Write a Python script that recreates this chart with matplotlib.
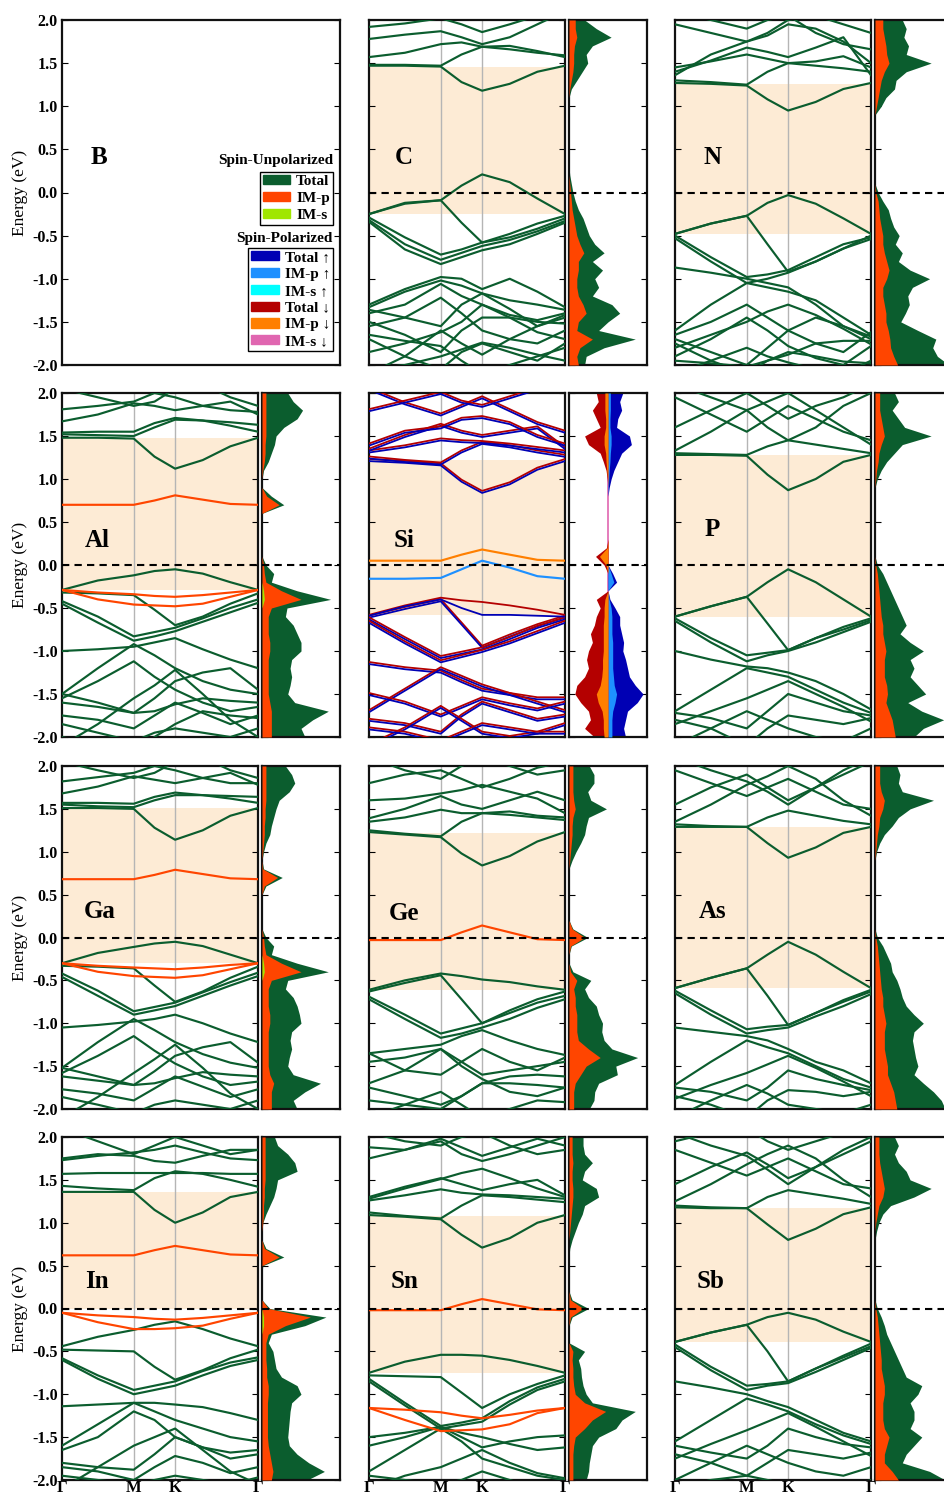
import numpy as np
import matplotlib.pyplot as plt
from matplotlib.patches import Patch
from matplotlib.ticker import FormatStrFormatter

plt.rcParams['font.family'] = ['Liberation Serif', 'DejaVu Serif']
plt.rcParams['font.weight'] = 'bold'
plt.rcParams['axes.unicode_minus'] = False
plt.rcParams['xtick.direction'] = 'in'
plt.rcParams['ytick.direction'] = 'in'

GREEN = '#0b5d2e'
IMP = '#ff4500'
IMS = '#a0e600'
UP_T, UP_P, UP_S = '#0000b4', '#1e90ff', '#00ffff'
DN_T, DN_P, DN_S = '#b40000', '#ff7f00', '#e066b0'
GAP = '#fdebd5'

# k-path samples: G, 1/2 GM, M, 1/2 MK, K, 1/3 KG, 2/3 KG, G  (fraction of path)
k_path = [0.0, 0.183, 0.366, 0.472, 0.577, 0.718, 0.859, 1.0]
k_ticks = [0.0, 0.366, 0.577, 1.0]
k_labels = ['Γ', 'M', 'K', 'Γ']
e_ticks = [-2.0, -1.5, -1.0, -0.5, 0.0, 0.5, 1.0, 1.5, 2.0]
# DOS energy grid, from 2.0 down to -2.0 in 0.1 eV steps
e_dos = np.linspace(2.0, -2.0, 41)

# ---------------- C ----------------
c_bands = [
    [1.47, 1.47, 1.46, 1.28, 1.18, 1.26, 1.40, 1.47],
    [1.48, 1.48, 1.47, 1.60, 1.69, 1.66, 1.62, 1.59],
    [1.57, 1.62, 1.72, 1.74, 1.69, 1.70, 1.64, 1.57],
    [1.78, 1.83, 1.87, 1.80, 1.72, 1.80, 1.95, 2.10],
    [1.92, 1.96, 2.02, 1.95, 1.86, 1.95, 2.05, 2.20],
    [-0.25, -0.12, -0.09, 0.08, 0.21, 0.12, -0.07, -0.25],
    [-0.25, -0.13, -0.09, -0.35, -0.58, -0.48, -0.36, -0.27],
    [-0.29, -0.52, -0.72, -0.66, -0.58, -0.52, -0.42, -0.30],
    [-0.32, -0.60, -0.78, -0.70, -0.62, -0.55, -0.45, -0.33],
    [-0.34, -0.66, -0.83, -0.75, -0.67, -0.60, -0.48, -0.35],
    [-1.30, -1.12, -0.98, -1.00, -1.12, -1.00, -1.15, -1.33],
    [-1.33, -1.15, -1.02, -1.08, -1.17, -1.25, -1.30, -1.36],
    [-1.36, -1.45, -1.55, -1.30, -1.17, -1.35, -1.55, -1.42],
    [-1.50, -1.65, -1.85, -1.60, -1.45, -1.45, -1.50, -1.52],
    [-1.55, -1.45, -1.22, -1.40, -1.60, -1.70, -1.75, -1.60],
    [-1.70, -1.90, -2.05, -1.85, -1.75, -1.85, -1.95, -1.75],
    [-2.10, -1.90, -1.60, -1.75, -1.88, -1.70, -1.55, -1.45],
    [-1.65, -1.72, -1.78, -1.95, -2.10, -2.00, -1.90, -1.80],
    [-1.40, -1.30, -1.06, -1.20, -1.30, -1.42, -1.48, -1.40],
    [-1.85, -1.75, -1.62, -1.50, -1.30, -1.45, -1.62, -1.70],
    [-2.05, -2.00, -1.90, -1.82, -1.74, -1.80, -1.88, -1.95],
]
c_imp_bands = []
c_gap = (-0.25, 1.46)
c_dos_tot = [0.2, 0.35, 0.54, 0.3, 0.22, 0.24, 0.17, 0.1, 0.03, 0.0, 0, 0, 0, 0, 0, 0, 0,
             0.0, 0.01, 0.03, 0.05, 0.08, 0.12, 0.18, 0.22, 0.26, 0.33, 0.45, 0.3, 0.43,
             0.33, 0.38, 0.3, 0.55, 0.65, 0.5, 0.38, 0.85, 0.45, 0.22, 0.2]
c_dos_p = [0.08, 0.08, 0.1, 0.07, 0.06, 0.06, 0.05, 0.03, 0.01, 0, 0, 0, 0, 0, 0, 0, 0,
           0, 0, 0.01, 0.02, 0.03, 0.04, 0.06, 0.08, 0.1, 0.14, 0.19, 0.12, 0.12,
           0.1, 0.1, 0.12, 0.18, 0.22, 0.12, 0.1, 0.3, 0.14, 0.1, 0.12]

# ---------------- N ----------------
n_bands = [
    [1.27, 1.26, 1.24, 1.08, 0.95, 1.05, 1.20, 1.27],
    [1.30, 1.28, 1.25, 1.40, 1.50, 1.47, 1.44, 1.40],
    [1.45, 1.52, 1.60, 1.55, 1.50, 1.52, 1.58, 1.45],
    [1.40, 1.53, 1.68, 1.63, 1.57, 1.68, 1.80, 1.36],
    [1.36, 1.60, 1.75, 1.82, 1.95, 1.90, 1.75, 1.50],
    [1.95, 1.85, 1.75, 1.85, 2.00, 2.05, 1.95, 1.85],
    [2.10, 2.00, 1.90, 2.00, 2.05, 1.85, 1.72, 1.66],
    [-0.48, -0.36, -0.27, -0.12, -0.03, -0.13, -0.30, -0.48],
    [-0.48, -0.36, -0.27, -0.60, -0.92, -0.80, -0.65, -0.50],
    [-0.50, -0.75, -0.98, -0.95, -0.90, -0.75, -0.60, -0.52],
    [-0.53, -0.80, -1.05, -1.00, -0.93, -0.80, -0.65, -0.54],
    [-0.87, -0.93, -1.00, -1.05, -1.10, -1.30, -1.55, -1.70],
    [-1.60, -1.30, -1.05, -1.10, -1.15, -1.25, -1.45, -1.65],
    [-1.65, -1.50, -1.30, -1.45, -1.60, -1.75, -1.85, -1.62],
    [-1.70, -1.85, -2.00, -1.80, -1.60, -1.45, -1.55, -1.67],
    [-1.75, -1.95, -2.10, -1.95, -1.88, -1.75, -1.72, -1.72],
    [-1.90, -1.70, -1.45, -1.60, -1.78, -1.92, -2.00, -1.78],
    [-2.10, -1.95, -1.80, -1.90, -1.97, -2.05, -2.10, -1.95],
    [-1.80, -1.65, -1.50, -1.38, -1.30, -1.42, -1.58, -1.76],
    [-1.95, -1.98, -2.02, -1.95, -1.85, -1.90, -1.96, -1.98],
]
n_imp_bands = []
n_gap = (-0.48, 1.26)
n_dos_tot = [0.35, 0.4, 0.37, 0.43, 0.4, 0.72, 0.4, 0.27, 0.25, 0.14, 0.08, 0.0,
             0, 0, 0, 0, 0, 0, 0, 0,
             0.04, 0.1, 0.17, 0.2, 0.24, 0.31, 0.26, 0.35, 0.3, 0.45, 0.7, 0.48, 0.42,
             0.44, 0.39, 0.33, 0.55, 0.78, 0.74, 0.8, 0.95]
n_dos_p = [0.1, 0.1, 0.12, 0.14, 0.15, 0.18, 0.12, 0.08, 0.06, 0.04, 0.02,
           0, 0, 0, 0, 0, 0, 0, 0, 0,
           0.01, 0.04, 0.05, 0.06, 0.08, 0.1, 0.1, 0.12, 0.15, 0.18, 0.15, 0.1, 0.1,
           0.12, 0.14, 0.14, 0.17, 0.19, 0.2, 0.24, 0.29]

# ---------------- Al ----------------
al_bands = [
    [1.48, 1.48, 1.47, 1.26, 1.12, 1.22, 1.38, 1.48],
    [1.52, 1.51, 1.50, 1.60, 1.69, 1.68, 1.66, 1.63],
    [1.54, 1.55, 1.55, 1.65, 1.71, 1.68, 1.62, 1.55],
    [1.67, 1.75, 1.88, 1.85, 1.80, 1.85, 1.90, 1.75],
    [1.81, 1.85, 1.90, 2.00, 1.95, 1.85, 1.80, 1.78],
    [2.05, 1.95, 1.85, 1.90, 2.05, 2.10, 1.95, 1.85],
    [-0.29, -0.18, -0.12, -0.07, -0.05, -0.10, -0.20, -0.29],
    [-0.32, -0.33, -0.35, -0.52, -0.70, -0.60, -0.45, -0.33],
    [-0.42, -0.60, -0.83, -0.78, -0.73, -0.62, -0.50, -0.40],
    [-0.45, -0.67, -0.88, -0.83, -0.77, -0.66, -0.55, -0.44],
    [-1.00, -0.98, -0.95, -0.90, -0.85, -0.98, -1.10, -1.20],
    [-1.50, -1.20, -0.92, -1.05, -1.20, -1.35, -1.45, -1.50],
    [-1.50, -1.60, -1.72, -1.55, -1.35, -1.25, -1.20, -1.45],
    [-1.60, -1.65, -1.72, -1.70, -1.62, -1.55, -1.58, -1.60],
    [-1.75, -1.80, -1.90, -1.75, -1.60, -1.72, -1.85, -1.75],
    [-2.10, -1.85, -1.55, -1.40, -1.22, -1.50, -1.80, -2.00],
    [-1.85, -1.95, -2.05, -1.95, -1.90, -1.95, -2.00, -1.90],
    [-2.00, -2.10, -2.20, -2.00, -1.85, -1.70, -1.75, -1.78],
    [-1.55, -1.35, -1.12, -1.30, -1.45, -1.60, -1.70, -1.65],
]
al_imp_bands = [
    [0.70, 0.70, 0.70, 0.75, 0.81, 0.76, 0.71, 0.70],
    [-0.29, -0.32, -0.34, -0.36, -0.37, -0.35, -0.32, -0.29],
    [-0.29, -0.40, -0.46, -0.47, -0.48, -0.45, -0.37, -0.29],
]
al_gap = (-0.29, 1.48)
al_dos_tot = [0.33, 0.4, 0.52, 0.45, 0.28, 0.18, 0.16, 0.12, 0.08, 0.02, 0, 0, 0.12, 0.28, 0.0,
              0, 0, 0, 0, 0,
              0.05, 0.15, 0.12, 0.45, 0.88, 0.32, 0.3, 0.4, 0.45, 0.5, 0.5, 0.38, 0.36,
              0.38, 0.36, 0.33, 0.42, 0.85, 0.65, 0.5, 0.55]
al_dos_p = [0.05, 0.05, 0.05, 0.05, 0.05, 0.05, 0.04, 0.04, 0.03, 0.01, 0, 0, 0.06, 0.22, 0,
            0, 0, 0, 0, 0,
            0.02, 0.03, 0.05, 0.25, 0.5, 0.12, 0.08, 0.08, 0.08, 0.1, 0.1, 0.08, 0.08,
            0.08, 0.08, 0.08, 0.1, 0.12, 0.12, 0.12, 0.12]
al_dos_s = [0, 0, 0, 0, 0, 0, 0, 0, 0, 0, 0, 0, 0, 0, 0, 0, 0, 0, 0, 0,
            0, 0, 0, 0.02, 0.03, 0, 0, 0, 0, 0, 0, 0, 0, 0, 0, 0, 0, 0, 0, 0, 0]

# ---------------- Si (spin-polarized) ----------------
si_bands = [
    [1.22, 1.20, 1.17, 0.98, 0.85, 0.95, 1.12, 1.22],
    [1.25, 1.21, 1.18, 1.32, 1.42, 1.38, 1.32, 1.27],
    [1.32, 1.38, 1.46, 1.44, 1.43, 1.40, 1.36, 1.32],
    [1.34, 1.50, 1.63, 1.55, 1.50, 1.55, 1.60, 1.36],
    [1.40, 1.55, 1.60, 1.70, 1.72, 1.65, 1.50, 1.40],
    [2.05, 1.88, 1.75, 1.85, 1.95, 1.80, 1.65, 1.55],
    [1.80, 1.90, 2.00, 1.90, 1.85, 1.95, 2.05, 2.10],
    [-0.60, -0.50, -0.41, -0.68, -0.95, -0.82, -0.70, -0.60],
    [-0.62, -0.85, -1.07, -1.02, -0.97, -0.85, -0.72, -0.62],
    [-0.66, -0.90, -1.12, -1.06, -1.00, -0.90, -0.78, -0.66],
    [-1.14, -1.20, -1.24, -1.35, -1.45, -1.50, -1.55, -1.55],
    [-1.70, -1.45, -1.20, -1.30, -1.40, -1.50, -1.60, -1.70],
    [-1.50, -1.60, -1.75, -1.65, -1.55, -1.62, -1.68, -1.60],
    [-1.80, -1.85, -1.95, -1.75, -1.60, -1.70, -1.80, -1.75],
    [-2.10, -1.90, -1.65, -1.80, -1.95, -2.00, -1.95, -1.85],
    [-1.90, -1.95, -2.05, -1.95, -1.85, -1.90, -1.95, -1.95],
]
si_top_dn = [-0.58, -0.47, -0.38, -0.41, -0.43, -0.47, -0.52, -0.58]
si_top_up = [-0.59, -0.48, -0.40, -0.50, -0.58, -0.58, -0.59, -0.60]
si_imp_dn = [0.05, 0.05, 0.05, 0.12, 0.18, 0.12, 0.06, 0.05]
si_imp_up = [-0.16, -0.16, -0.15, -0.05, 0.05, -0.03, -0.13, -0.16]
si_gap = (-0.58, 1.22)
si_up_tot = [0.38, 0.3, 0.35, 0.25, 0.22, 0.55, 0.6, 0.35, 0.25, 0.15, 0.08, 0.03, 0,
             0, 0, 0, 0, 0, 0, 0, 0.0,
             0.12, 0.22, 0, 0.05, 0.18, 0.3, 0.3, 0.35, 0.4, 0.38, 0.45, 0.5, 0.55,
             0.7, 0.9, 0.75, 0.5, 0.45, 0.4, 0.45]
si_up_p = [0.06, 0.06, 0.06, 0.05, 0.05, 0.08, 0.08, 0.06, 0.05, 0.03, 0.02, 0.01, 0,
           0, 0, 0, 0, 0, 0, 0, 0,
           0.08, 0.15, 0, 0.03, 0.08, 0.1, 0.1, 0.1, 0.12, 0.12, 0.12, 0.12, 0.14,
           0.16, 0.22, 0.18, 0.12, 0.1, 0.1, 0.1]
si_dn_tot = [0.3, 0.25, 0.4, 0.3, 0.2, 0.6, 0.5, 0.2, 0.12, 0.05, 0.02, 0, 0,
             0, 0, 0, 0, 0, 0.04, 0.32, 0.1,
             0, 0, 0, 0.3, 0.2, 0.3, 0.35, 0.45, 0.4, 0.5, 0.55, 0.5, 0.6, 0.8, 0.85,
             0.7, 0.5, 0.45, 0.6, 0.35]
si_dn_p = [0.08, 0.08, 0.08, 0.06, 0.06, 0.1, 0.1, 0.06, 0.05, 0.03, 0.01, 0, 0,
           0, 0, 0, 0, 0, 0.02, 0.22, 0.05,
           0, 0, 0, 0.08, 0.1, 0.1, 0.12, 0.12, 0.12, 0.12, 0.14, 0.14, 0.16, 0.2,
           0.3, 0.25, 0.15, 0.12, 0.12, 0.1]

# ---------------- P ----------------
p_bands = [
    [1.28, 1.28, 1.27, 1.05, 0.87, 1.00, 1.20, 1.28],
    [1.30, 1.29, 1.28, 1.38, 1.45, 1.40, 1.35, 1.30],
    [1.33, 1.55, 1.80, 1.90, 2.00, 1.80, 1.60, 1.40],
    [1.60, 1.80, 2.00, 1.85, 1.70, 1.85, 1.95, 2.10],
    [1.95, 1.75, 1.55, 1.70, 1.85, 1.70, 1.55, 1.45],
    [2.10, 1.95, 1.80, 1.60, 1.45, 1.60, 1.85, 2.00],
    [-0.60, -0.48, -0.37, -0.20, -0.05, -0.20, -0.40, -0.60],
    [-0.60, -0.48, -0.37, -0.68, -0.99, -0.85, -0.72, -0.62],
    [-0.62, -0.85, -1.05, -1.02, -0.99, -0.85, -0.75, -0.64],
    [-0.65, -0.90, -1.12, -1.05, -1.00, -0.90, -0.78, -0.66],
    [-1.00, -1.10, -1.18, -1.20, -1.25, -1.35, -1.50, -1.68],
    [-1.70, -1.45, -1.20, -1.25, -1.30, -1.45, -1.60, -1.72],
    [-1.72, -1.78, -1.90, -1.70, -1.50, -1.60, -1.70, -1.75],
    [-1.80, -1.90, -2.10, -1.90, -1.75, -1.80, -1.85, -1.78],
    [-2.10, -1.90, -1.70, -1.80, -1.90, -2.00, -2.05, -1.90],
    [-1.85, -1.70, -1.55, -1.45, -1.35, -1.50, -1.65, -1.82],
]
p_imp_bands = []
p_gap = (-0.60, 1.28)
p_dos_tot = [0.25, 0.3, 0.22, 0.3, 0.38, 0.72, 0.35, 0.25, 0.15, 0.08, 0.03, 0,
             0, 0, 0, 0, 0, 0, 0, 0,
             0.03, 0.1, 0.15, 0.2, 0.25, 0.3, 0.35, 0.4, 0.32, 0.45, 0.62, 0.45, 0.5,
             0.45, 0.55, 0.65, 0.42, 0.6, 0.88, 0.62, 0.5]
p_dos_p = [0.06, 0.06, 0.06, 0.08, 0.1, 0.12, 0.08, 0.05, 0.04, 0.02, 0.01, 0,
           0, 0, 0, 0, 0, 0, 0, 0,
           0.01, 0.03, 0.04, 0.05, 0.06, 0.07, 0.08, 0.1, 0.1, 0.12, 0.14, 0.12, 0.12,
           0.12, 0.15, 0.16, 0.14, 0.18, 0.22, 0.24, 0.26]

# ---------------- Ga ----------------
ga_bands = [
    [1.51, 1.51, 1.50, 1.28, 1.14, 1.25, 1.42, 1.51],
    [1.55, 1.53, 1.52, 1.60, 1.66, 1.66, 1.65, 1.64],
    [1.57, 1.57, 1.56, 1.64, 1.69, 1.66, 1.62, 1.57],
    [1.68, 1.76, 1.88, 1.84, 1.80, 1.86, 1.92, 1.78],
    [1.82, 1.87, 1.92, 2.00, 1.95, 1.86, 1.80, 1.80],
    [2.05, 1.95, 1.86, 1.92, 2.05, 2.10, 1.95, 1.86],
    [-0.30, -0.18, -0.11, -0.07, -0.05, -0.10, -0.20, -0.30],
    [-0.33, -0.34, -0.36, -0.56, -0.75, -0.63, -0.47, -0.34],
    [-0.42, -0.62, -0.86, -0.81, -0.76, -0.64, -0.52, -0.41],
    [-0.46, -0.68, -0.90, -0.85, -0.80, -0.68, -0.56, -0.45],
    [-1.05, -1.02, -0.98, -0.95, -0.90, -1.00, -1.12, -1.22],
    [-1.52, -1.22, -0.95, -1.08, -1.22, -1.36, -1.46, -1.52],
    [-1.52, -1.62, -1.72, -1.56, -1.38, -1.28, -1.22, -1.46],
    [-1.62, -1.67, -1.72, -1.70, -1.64, -1.57, -1.60, -1.62],
    [-1.77, -1.82, -1.90, -1.76, -1.62, -1.74, -1.86, -1.77],
    [-2.10, -1.86, -1.58, -1.42, -1.25, -1.52, -1.82, -2.00],
    [-1.86, -1.95, -2.05, -1.95, -1.90, -1.95, -2.00, -1.90],
    [-1.58, -1.38, -1.15, -1.32, -1.47, -1.62, -1.72, -1.68],
]
ga_imp_bands = [
    [0.68, 0.68, 0.68, 0.73, 0.79, 0.74, 0.69, 0.68],
    [-0.30, -0.33, -0.35, -0.36, -0.37, -0.35, -0.32, -0.30],
    [-0.30, -0.40, -0.45, -0.46, -0.47, -0.44, -0.37, -0.30],
]
ga_gap = (-0.30, 1.51)
ga_dos_tot = [0.3, 0.38, 0.42, 0.35, 0.22, 0.18, 0.15, 0.12, 0.1, 0.05, 0.02, 0, 0.02, 0.26, 0.05,
              0, 0, 0, 0, 0,
              0.05, 0.15, 0.12, 0.45, 0.85, 0.33, 0.3, 0.4, 0.45, 0.48, 0.5, 0.38, 0.36,
              0.38, 0.35, 0.33, 0.4, 0.75, 0.55, 0.4, 0.45]
ga_dos_p = [0.05, 0.05, 0.05, 0.05, 0.05, 0.04, 0.04, 0.03, 0.03, 0.02, 0.01, 0, 0.01, 0.2, 0.03,
            0, 0, 0, 0, 0,
            0.02, 0.03, 0.05, 0.25, 0.5, 0.12, 0.08, 0.08, 0.08, 0.1, 0.1, 0.08, 0.08,
            0.08, 0.08, 0.08, 0.1, 0.15, 0.12, 0.12, 0.12]
ga_dos_s = [0, 0, 0, 0, 0, 0, 0, 0, 0, 0, 0, 0, 0, 0, 0, 0, 0, 0, 0, 0,
            0, 0, 0, 0.02, 0.03, 0, 0, 0, 0, 0, 0, 0, 0, 0, 0, 0, 0, 0, 0, 0, 0]

# ---------------- Ge ----------------
ge_bands = [
    [1.23, 1.20, 1.17, 0.98, 0.84, 0.95, 1.12, 1.23],
    [1.25, 1.21, 1.18, 1.35, 1.45, 1.43, 1.40, 1.37],
    [1.35, 1.40, 1.49, 1.45, 1.45, 1.47, 1.42, 1.40],
    [1.39, 1.50, 1.65, 1.55, 1.50, 1.60, 1.70, 1.60],
    [1.60, 1.62, 1.68, 1.72, 1.78, 1.70, 1.62, 1.45],
    [1.80, 1.90, 1.95, 1.85, 1.75, 1.85, 1.98, 2.05],
    [2.10, 1.95, 1.85, 2.00, 2.10, 2.00, 1.90, 1.95],
    [-0.61, -0.50, -0.42, -0.45, -0.49, -0.52, -0.57, -0.61],
    [-0.63, -0.53, -0.44, -0.72, -1.00, -0.85, -0.72, -0.63],
    [-0.69, -0.90, -1.12, -1.06, -1.00, -0.88, -0.76, -0.68],
    [-0.72, -0.95, -1.17, -1.12, -1.05, -0.95, -0.82, -0.72],
    [-1.35, -1.30, -1.25, -1.15, -1.08, -1.20, -1.30, -1.37],
    [-1.35, -1.55, -1.60, -1.45, -1.30, -1.45, -1.55, -1.40],
    [-1.45, -1.40, -1.30, -1.45, -1.60, -1.55, -1.50, -1.45],
    [-1.70, -1.55, -1.30, -1.50, -1.65, -1.80, -1.85, -1.75],
    [-1.90, -1.95, -2.00, -1.85, -1.70, -1.70, -1.72, -1.75],
    [-2.10, -1.95, -1.80, -1.95, -2.10, -2.00, -1.90, -1.92],
    [-1.75, -1.85, -1.95, -1.85, -1.70, -1.62, -1.60, -1.62],
]
ge_imp_bands = [
    [-0.03, -0.03, -0.03, 0.06, 0.14, 0.06, -0.02, -0.03],
]
ge_gap = (-0.61, 1.22)
ge_dos_tot = [0.26, 0.32, 0.32, 0.24, 0.28, 0.48, 0.25, 0.22, 0.2, 0.15, 0.09, 0.04, 0,
              0, 0, 0, 0, 0, 0, 0.05, 0.24,
              0.03, 0, 0, 0.05, 0.28, 0.2, 0.25, 0.35, 0.38, 0.43, 0.42, 0.45, 0.55,
              0.88, 0.6, 0.62, 0.38, 0.33, 0.32, 0.26]
ge_dos_p = [0.05, 0.05, 0.05, 0.05, 0.06, 0.08, 0.05, 0.04, 0.04, 0.03, 0.02, 0.01, 0,
            0, 0, 0, 0, 0, 0, 0.04, 0.2,
            0.02, 0, 0, 0.02, 0.1, 0.06, 0.08, 0.08, 0.1, 0.1, 0.1, 0.12, 0.25,
            0.4, 0.22, 0.15, 0.08, 0.06, 0.06, 0.06]

# ---------------- As ----------------
as_bands = [
    [1.29, 1.29, 1.29, 1.10, 0.93, 1.05, 1.22, 1.29],
    [1.32, 1.30, 1.29, 1.40, 1.48, 1.42, 1.36, 1.32],
    [1.35, 1.55, 1.78, 1.88, 2.00, 1.85, 1.60, 1.42],
    [1.55, 1.75, 1.90, 1.75, 1.60, 1.75, 1.90, 2.05],
    [1.95, 1.80, 1.65, 1.75, 1.85, 1.70, 1.55, 1.50],
    [2.10, 1.95, 1.82, 1.70, 1.55, 1.75, 1.95, 2.10],
    [-0.59, -0.47, -0.36, -0.20, -0.05, -0.20, -0.40, -0.59],
    [-0.59, -0.47, -0.36, -0.68, -1.02, -0.88, -0.73, -0.61],
    [-0.62, -0.85, -1.07, -1.04, -1.02, -0.88, -0.75, -0.63],
    [-0.65, -0.90, -1.12, -1.08, -1.05, -0.92, -0.80, -0.66],
    [-1.05, -1.10, -1.15, -1.20, -1.30, -1.45, -1.55, -1.70],
    [-1.72, -1.45, -1.20, -1.28, -1.35, -1.50, -1.65, -1.75],
    [-1.75, -1.80, -1.90, -1.75, -1.55, -1.65, -1.72, -1.78],
    [-1.85, -1.95, -2.10, -1.90, -1.78, -1.80, -1.85, -1.80],
    [-2.10, -1.90, -1.72, -1.82, -1.95, -2.00, -2.05, -1.95],
    [-1.88, -1.72, -1.58, -1.48, -1.38, -1.52, -1.68, -1.85],
]
as_imp_bands = []
as_gap = (-0.59, 1.29)
as_dos_tot = [0.28, 0.32, 0.3, 0.35, 0.75, 0.45, 0.3, 0.22, 0.12, 0.06, 0.02, 0,
              0, 0, 0, 0, 0, 0, 0, 0,
              0.03, 0.1, 0.15, 0.2, 0.22, 0.28, 0.32, 0.35, 0.4, 0.5, 0.62, 0.5, 0.48,
              0.5, 0.52, 0.55, 0.5, 0.62, 0.75, 0.85, 0.9]
as_dos_p = [0.06, 0.06, 0.06, 0.08, 0.12, 0.1, 0.06, 0.05, 0.03, 0.02, 0.01, 0,
            0, 0, 0, 0, 0, 0, 0, 0,
            0.01, 0.03, 0.04, 0.05, 0.06, 0.07, 0.08, 0.1, 0.1, 0.12, 0.14, 0.12, 0.12,
            0.12, 0.14, 0.16, 0.16, 0.2, 0.24, 0.26, 0.28]

# ---------------- In ----------------
in_bands = [
    [1.36, 1.36, 1.36, 1.15, 1.00, 1.12, 1.30, 1.36],
    [1.43, 1.40, 1.38, 1.52, 1.60, 1.57, 1.50, 1.42],
    [1.57, 1.58, 1.58, 1.58, 1.58, 1.58, 1.57, 1.57],
    [1.73, 1.78, 1.82, 1.85, 1.90, 1.82, 1.75, 1.73],
    [1.75, 1.80, 1.78, 1.72, 1.70, 1.78, 1.85, 1.85],
    [2.10, 1.95, 1.80, 1.90, 2.00, 1.90, 1.80, 1.85],
    [-0.44, -0.33, -0.25, -0.19, -0.15, -0.24, -0.35, -0.44],
    [-0.48, -0.49, -0.50, -0.68, -0.83, -0.72, -0.58, -0.48],
    [-0.58, -0.78, -0.95, -0.90, -0.85, -0.73, -0.63, -0.57],
    [-0.60, -0.82, -1.00, -0.95, -0.90, -0.78, -0.67, -0.60],
    [-1.14, -1.12, -1.10, -1.10, -1.12, -1.15, -1.22, -1.30],
    [-1.60, -1.35, -1.10, -1.20, -1.30, -1.40, -1.50, -1.55],
    [-1.65, -1.50, -1.20, -1.30, -1.50, -1.62, -1.68, -1.65],
    [-1.80, -1.85, -1.88, -1.70, -1.50, -1.62, -1.75, -1.70],
    [-1.85, -1.90, -2.00, -1.85, -1.72, -1.80, -1.92, -1.85],
    [-2.10, -1.85, -1.60, -1.50, -1.40, -1.65, -1.90, -2.05],
    [-1.95, -2.00, -2.05, -2.00, -1.95, -2.00, -2.05, -1.97],
]
in_imp_bands = [
    [0.62, 0.62, 0.62, 0.68, 0.73, 0.68, 0.63, 0.62],
    [-0.05, -0.08, -0.10, -0.12, -0.13, -0.11, -0.08, -0.05],
    [-0.05, -0.16, -0.24, -0.24, -0.23, -0.20, -0.12, -0.05],
]
in_gap = (0.0, 1.36)
in_dos_tot = [0.16, 0.2, 0.33, 0.42, 0.45, 0.2, 0.18, 0.15, 0.1, 0.05, 0.01, 0, 0,
              0.05, 0.28, 0.01, 0, 0, 0, 0, 0.1,
              0.82, 0.55, 0.12, 0.08, 0.14, 0.16, 0.18, 0.25, 0.45, 0.5, 0.38, 0.36,
              0.35, 0.34, 0.33, 0.35, 0.45, 0.6, 0.8, 0.58]
in_dos_p = [0.04, 0.04, 0.04, 0.04, 0.04, 0.04, 0.03, 0.03, 0.02, 0.02, 0.01, 0, 0,
            0.03, 0.22, 0, 0, 0, 0, 0, 0.08,
            0.62, 0.3, 0.08, 0.05, 0.05, 0.05, 0.06, 0.06, 0.08, 0.08, 0.07, 0.07,
            0.07, 0.07, 0.07, 0.08, 0.1, 0.12, 0.14, 0.12]
in_dos_s = [0, 0, 0, 0, 0, 0, 0, 0, 0, 0, 0, 0, 0, 0, 0, 0, 0, 0, 0, 0,
            0, 0.02, 0.02, 0, 0, 0, 0, 0, 0, 0, 0, 0, 0, 0, 0, 0, 0, 0, 0, 0, 0]

# ---------------- Sn ----------------
sn_bands = [
    [1.09, 1.07, 1.04, 0.86, 0.71, 0.82, 1.00, 1.09],
    [1.12, 1.08, 1.05, 1.20, 1.32, 1.30, 1.27, 1.24],
    [1.26, 1.32, 1.39, 1.35, 1.33, 1.32, 1.30, 1.28],
    [1.28, 1.40, 1.51, 1.58, 1.63, 1.52, 1.40, 1.30],
    [1.30, 1.42, 1.52, 1.45, 1.38, 1.45, 1.50, 1.32],
    [1.75, 1.85, 1.98, 1.88, 1.78, 1.88, 1.98, 1.90],
    [1.88, 1.85, 1.95, 1.80, 1.72, 1.80, 1.90, 2.00],
    [2.05, 1.95, 1.90, 2.00, 2.05, 1.90, 1.80, 1.85],
    [-0.75, -0.62, -0.54, -0.54, -0.55, -0.60, -0.67, -0.75],
    [-0.78, -0.79, -0.80, -0.98, -1.16, -1.00, -0.88, -0.78],
    [-0.82, -1.10, -1.37, -1.33, -1.28, -1.08, -0.92, -0.82],
    [-0.85, -1.13, -1.40, -1.36, -1.32, -1.12, -0.95, -0.85],
    [-1.50, -1.45, -1.38, -1.45, -1.50, -1.58, -1.65, -1.62],
    [-1.90, -1.65, -1.40, -1.55, -1.75, -1.85, -1.95, -2.00],
    [-1.60, -1.50, -1.38, -1.50, -1.62, -1.55, -1.50, -1.48],
    [-2.10, -1.95, -1.85, -1.75, -1.65, -1.80, -1.92, -1.98],
    [-1.95, -2.00, -2.05, -2.00, -1.90, -2.00, -2.10, -2.00],
]
sn_imp_bands = [
    [-0.02, -0.02, -0.02, 0.05, 0.11, 0.05, -0.01, -0.02],
    [-1.16, -1.18, -1.21, -1.25, -1.28, -1.24, -1.19, -1.16],
    [-1.16, -1.30, -1.43, -1.42, -1.41, -1.35, -1.22, -1.16],
]
sn_gap = (-0.75, 1.08)
sn_dos_tot = [0.18, 0.18, 0.2, 0.3, 0.2, 0.17, 0.35, 0.38, 0.2, 0.17, 0.12, 0.08, 0.04, 0.01,
              0, 0, 0, 0, 0, 0.04, 0.25,
              0.04, 0, 0, 0, 0.2, 0.12, 0.15, 0.16, 0.18, 0.22, 0.3, 0.85, 0.68,
              0.6, 0.38, 0.3, 0.28, 0.26, 0.25, 0.22]
sn_dos_p = [0.04, 0.04, 0.04, 0.05, 0.04, 0.04, 0.05, 0.05, 0.04, 0.03, 0.02, 0.01, 0, 0,
            0, 0, 0, 0, 0, 0.02, 0.18,
            0.02, 0, 0, 0, 0.05, 0.04, 0.05, 0.05, 0.06, 0.08, 0.2, 0.47, 0.3,
            0.2, 0.08, 0.06, 0.05, 0.05, 0.05, 0.05]

# ---------------- Sb ----------------
sb_bands = [
    [1.18, 1.17, 1.17, 0.98, 0.80, 0.93, 1.10, 1.18],
    [1.20, 1.18, 1.17, 1.30, 1.38, 1.33, 1.28, 1.22],
    [1.25, 1.45, 1.68, 1.80, 1.90, 1.75, 1.50, 1.30],
    [1.45, 1.65, 1.82, 1.68, 1.52, 1.65, 1.80, 1.95],
    [1.85, 1.70, 1.55, 1.65, 1.75, 1.60, 1.45, 1.40],
    [2.05, 1.90, 1.78, 1.62, 1.45, 1.65, 1.85, 2.00],
    [1.95, 2.05, 2.10, 1.95, 1.85, 1.95, 2.05, 2.10],
    [-0.39, -0.28, -0.19, -0.10, -0.05, -0.13, -0.27, -0.39],
    [-0.39, -0.28, -0.19, -0.50, -0.85, -0.70, -0.55, -0.41],
    [-0.42, -0.68, -0.90, -0.88, -0.85, -0.70, -0.57, -0.44],
    [-0.45, -0.72, -0.95, -0.90, -0.87, -0.74, -0.60, -0.46],
    [-0.85, -0.92, -1.00, -1.08, -1.15, -1.30, -1.45, -1.55],
    [-1.55, -1.30, -1.05, -1.12, -1.20, -1.35, -1.48, -1.58],
    [-1.60, -1.68, -1.75, -1.60, -1.40, -1.50, -1.58, -1.62],
    [-1.70, -1.80, -1.95, -1.80, -1.65, -1.70, -1.75, -1.68],
    [-2.00, -1.80, -1.60, -1.70, -1.80, -1.90, -1.95, -1.85],
    [-2.10, -2.00, -1.95, -2.00, -2.05, -2.10, -2.10, -2.00],
    [-1.75, -1.58, -1.42, -1.32, -1.22, -1.38, -1.55, -1.72],
]
sb_imp_bands = []
sb_gap = (-0.39, 1.17)
sb_dos_tot = [0.25, 0.3, 0.25, 0.3, 0.4, 0.45, 0.72, 0.5, 0.2, 0.1, 0.05, 0.02, 0,
              0, 0, 0, 0, 0, 0, 0,
              0.03, 0.08, 0.12, 0.15, 0.2, 0.25, 0.3, 0.35, 0.4, 0.6, 0.55, 0.45, 0.5,
              0.5, 0.45, 0.6, 0.5, 0.4, 0.35, 0.7, 0.9]
sb_dos_p = [0.05, 0.05, 0.05, 0.06, 0.08, 0.1, 0.12, 0.1, 0.05, 0.03, 0.01, 0, 0,
            0, 0, 0, 0, 0, 0, 0,
            0.01, 0.03, 0.04, 0.05, 0.06, 0.07, 0.08, 0.08, 0.1, 0.12, 0.12, 0.1, 0.1,
            0.1, 0.12, 0.18, 0.15, 0.12, 0.12, 0.22, 0.3]

# name, row, col, bands, impurity bands, gap, label (x, E), DOS total, IM-p, IM-s
panels = [
    ('C', 0, 1, c_bands, c_imp_bands, c_gap, (0.18, 0.40), c_dos_tot, c_dos_p, None),
    ('N', 0, 2, n_bands, n_imp_bands, n_gap, (0.19, 0.40), n_dos_tot, n_dos_p, None),
    ('Al', 1, 0, al_bands, al_imp_bands, al_gap, (0.18, 0.29), al_dos_tot, al_dos_p, al_dos_s),
    ('P', 1, 2, p_bands, p_imp_bands, p_gap, (0.19, 0.41), p_dos_tot, p_dos_p, None),
    ('Ga', 2, 0, ga_bands, ga_imp_bands, ga_gap, (0.19, 0.30), ga_dos_tot, ga_dos_p, ga_dos_s),
    ('Ge', 2, 1, ge_bands, ge_imp_bands, ge_gap, (0.18, 0.28), ge_dos_tot, ge_dos_p, None),
    ('As', 2, 2, as_bands, as_imp_bands, as_gap, (0.19, 0.30), as_dos_tot, as_dos_p, None),
    ('In', 3, 0, in_bands, in_imp_bands, in_gap, (0.18, 0.32), in_dos_tot, in_dos_p, in_dos_s),
    ('Sn', 3, 1, sn_bands, sn_imp_bands, sn_gap, (0.18, 0.32), sn_dos_tot, sn_dos_p, None),
    ('Sb', 3, 2, sb_bands, sb_imp_bands, sb_gap, (0.18, 0.32), sb_dos_tot, sb_dos_p, None),
]

# layout in pixels of the 945 x 1495 canvas
W, H = 945, 1495
ROWS = [(20, 365), (393, 737), (766, 1109), (1137, 1480)]
COLS = [(62, 258, 262, 340), (369, 565, 569, 647), (675, 871, 875, 953)]

TICK_FS = 11.5
LABEL_FS = 12.5
NAME_FS = 18
LEG_FS = 11
BAND_LW = 1.55

fig = plt.figure(figsize=(W / 100, H / 100), dpi=100)


def px_axes(x0, x1, y0, y1):
    return fig.add_axes([x0 / W, 1 - y1 / H, (x1 - x0) / W, (y1 - y0) / H])


def frame(ax, left_labels):
    ax.set_ylim(-2, 2)
    ax.set_yticks(e_ticks)
    ax.yaxis.set_major_formatter(FormatStrFormatter('%.1f'))
    ax.tick_params(axis='y', left=True, right=True, length=4, width=0.8,
                   labelsize=TICK_FS, pad=3, labelleft=left_labels)
    ax.tick_params(axis='x', length=0)
    for s in ax.spines.values():
        s.set_linewidth(1.6)
        s.set_color('#111111')


def band_frame(ax, row, col):
    ax.set_xlim(0, 1)
    frame(ax, col == 0)
    ax.set_xticks(k_ticks)
    if row == 3:
        ax.set_xticklabels(k_labels, fontsize=12)
        ax.tick_params(axis='x', pad=0)
    else:
        ax.set_xticklabels([])
    for k in k_ticks[1:3]:
        ax.axvline(k, color='#b5b5b5', lw=1.0, zorder=1)
    ax.axhline(0, color='black', lw=1.5, ls=(0, (3.5, 2.5)), zorder=6)
    if col == 0:
        ax.set_ylabel('Energy (eV)', fontsize=LABEL_FS, labelpad=3)


def dos_frame(ax):
    frame(ax, False)
    ax.set_xticks([])
    ax.axhline(0, color='black', lw=1.5, ls=(0, (3.5, 2.5)), zorder=6)


for name, row, col, bands, imps, gap, lab, tot, pdos, sdos in panels:
    y0, y1 = ROWS[row]
    bx0, bx1, dx0, dx1 = COLS[col]
    ax = px_axes(bx0, bx1, y0, y1)
    band_frame(ax, row, col)
    ax.axhspan(gap[0], gap[1], color=GAP, lw=0, zorder=0)
    for b in bands:
        ax.plot(k_path, b, color=GREEN, lw=BAND_LW, zorder=3)
    for b in imps:
        ax.plot(k_path, b, color=IMP, lw=BAND_LW, zorder=4)
    ax.text(lab[0], lab[1], name, fontsize=NAME_FS, ha='center', va='center', zorder=7)

    ad = px_axes(dx0, dx1, y0, y1)
    ad.set_xlim(0, 1)
    dos_frame(ad)
    ad.fill_betweenx(e_dos, 0, tot, color=GREEN, lw=0, zorder=2)
    ad.fill_betweenx(e_dos, 0, pdos, color=IMP, lw=0, zorder=3)
    if sdos is not None:
        ad.fill_betweenx(e_dos, 0, sdos, color=IMS, lw=0, zorder=4)

# ---- Si: spin-polarized panel ----
y0, y1 = ROWS[1]
bx0, bx1, dx0, dx1 = COLS[1]
ax = px_axes(bx0, bx1, y0, y1)
band_frame(ax, 1, 1)
ax.axhspan(si_gap[0], si_gap[1], color=GAP, lw=0, zorder=0)
for b in si_bands:
    ax.plot(k_path, np.array(b) + 0.012, color=DN_T, lw=1.3, zorder=3)
    ax.plot(k_path, np.array(b) - 0.012, color=UP_T, lw=1.3, zorder=3)
ax.plot(k_path, si_top_dn, color=DN_T, lw=1.3, zorder=3)
ax.plot(k_path, si_top_up, color=UP_T, lw=1.3, zorder=3)
ax.plot(k_path, si_imp_dn, color=DN_P, lw=BAND_LW, zorder=4)
ax.plot(k_path, si_imp_up, color=UP_P, lw=BAND_LW, zorder=4)
ax.text(0.18, 0.29, 'Si', fontsize=NAME_FS, ha='center', va='center', zorder=7)

ad = px_axes(dx0, dx1, y0, y1)
ad.set_xlim(-1, 1)
dos_frame(ad)
ad.axvline(0, color=DN_S, lw=1.2, zorder=1)
ad.fill_betweenx(e_dos, 0, si_up_tot, color=UP_T, lw=0, zorder=2)
ad.fill_betweenx(e_dos, 0, -np.array(si_dn_tot), color=DN_T, lw=0, zorder=2)
ad.fill_betweenx(e_dos, 0, si_up_p, color=UP_P, lw=0, zorder=3)
ad.fill_betweenx(e_dos, 0, -np.array(si_dn_p), color=DN_P, lw=0, zorder=3)

# ---- B: empty panel carrying the legends ----
y0, y1 = ROWS[0]
ab = px_axes(62, 340, y0, y1)
ab.set_xlim(0, 1)
frame(ab, True)
ab.set_xticks([])
ab.set_ylabel('Energy (eV)', fontsize=LABEL_FS, labelpad=3)
ab.text(0.133, 0.40, 'B', fontsize=NAME_FS, ha='center', va='center')

leg_kw = dict(loc='upper right', fontsize=LEG_FS, frameon=True, fancybox=False,
              edgecolor='black', framealpha=1, borderpad=0.2, handlelength=1.8,
              handleheight=0.55, labelspacing=0.25, handletextpad=0.4, borderaxespad=0)
unpol = [Patch(color=GREEN, label='Total'), Patch(color=IMP, label='IM-p'),
         Patch(color=IMS, label='IM-s')]
pol = [Patch(color=UP_T, label='Total ↑'), Patch(color=UP_P, label='IM-p ↑'),
       Patch(color=UP_S, label='IM-s ↑'), Patch(color=DN_T, label='Total ↓'),
       Patch(color=DN_P, label='IM-p ↓'), Patch(color=DN_S, label='IM-s ↓')]
leg1 = ab.legend(handles=unpol, bbox_to_anchor=(0.975, 0.559), **leg_kw)
leg1.get_frame().set_linewidth(1.0)
ab.add_artist(leg1)
leg2 = ab.legend(handles=pol, bbox_to_anchor=(0.975, 0.339), **leg_kw)
leg2.get_frame().set_linewidth(1.0)
ab.text(0.975, 0.594, 'Spin-Unpolarized', transform=ab.transAxes, ha='right',
        va='center', fontsize=LEG_FS)
ab.text(0.975, 0.366, 'Spin-Polarized', transform=ab.transAxes, ha='right',
        va='center', fontsize=LEG_FS)

fig.savefig('out.png', dpi=100)
